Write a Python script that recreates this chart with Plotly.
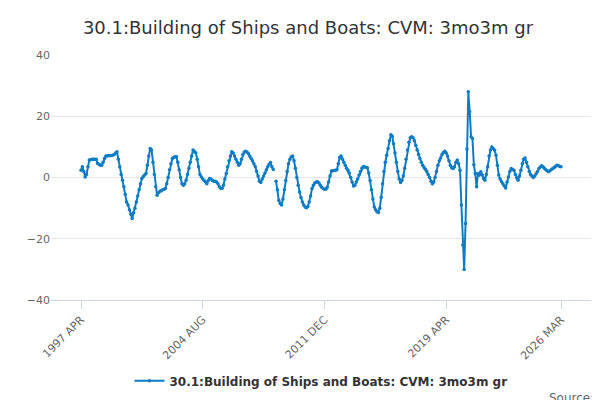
import plotly.graph_objects as go

months = ['JAN', 'FEB', 'MAR', 'APR', 'MAY', 'JUN', 'JUL', 'AUG', 'SEP', 'OCT', 'NOV', 'DEC']

# 3mo3m growth, monthly from 1997 APR
values = [
    2.4, 3.5, 2, 0.2, 1, 3.5, 5.7, 5.8, 6, 6, 6, 6,
    4.6, 4.3, 4, 4, 5, 6.2, 7, 7, 7.2, 7.1, 7.2, 7.3,
    7.5, 8, 8.4, 6, 3.5, 1, -0.9, -3, -5.5, -8, -9, -10.5,
    -12, -13.4, -11.5, -10, -8, -6, -4, -2, -0.3, 0.3, 0.8, 1.3,
    4, 7, 9.5, 9, 5, 1, -3, -5.8, -5, -4.5, -4.3, -4,
    -3.8, -3.6, -2, 0, 2.5, 4.5, 6.2, 6.5, 6.8, 6.8, 5, 2.5,
    0, -2, -2.5, -2, -0.9, 1, 3, 5, 7, 9, 8.5, 8,
    6, 3.5, 1, 0.2, -0.5, -1, -1.5, -2, -1, -0.3, -0.5, -1,
    -1.2, -1.2, -1.5, -2, -3, -3.5, -3.6, -2.5, -0.5, 1.3, 3.5, 5.5,
    7, 8.4, 8, 7, 6, 5, 4, 4.5, 6, 7.5, 8.3, 8.6,
    8.3, 7.8, 7, 6.2, 5.5, 4.5, 3.5, 2, 0.5, -1.2, -1.6, -0.5,
    0.5, 1.5, 2.5, 3.5, 4.3, 4.9, 3.5, 2.6, None, -1.2, -4, -7.5,
    -8.5, -9, -7, -4, -1, 2, 4.5, 6, 6.8, 7, 5.5, 3,
    0, -2.5, -4.7, -6.5, -8, -9, -9.6, -9.9, -9.5, -8, -6, -3.6,
    -2.5, -1.8, -1.5, -1.4, -1.8, -2.5, -3.2, -3.6, -3.8, -3.8, -3.2, -1.5,
    0.5, 2.1, 2.2, 2.3, 2.4, 2.5, 4.5, 6.5, 7, 6, 5, 4,
    3, 2.4, 1.5, 0, -1.5, -2.8, -2.5, -1.5, -0.5, 0.8, 2, 3,
    3.5, 3.5, 3.3, 3.2, 1.5, -1, -4, -7, -9.6, -10.5, -11.2, -11.4,
    -10, -6.5, -2, 2, 5, 7.3, 9.5, 12, 14, 13.5, 11, 8,
    5, 2, -0.5, -1.6, -1, 0.5, 3, 6, 9, 11.5, 13, 13.3,
    13, 12, 10.5, 9, 7.5, 6.2, 5, 4, 3.3, 2.7, 2, 1,
    0, -1.2, -2, -1.5, 0, 2, 4, 5.5, 6.4, 7.5, 8.2, 8.6,
    8, 7, 5.5, 4, 3.2, 2.9, 3.5, 5, 5.7, 4.5, 2.4, -9,
    -22, -30, -15, 9.3, 28, 21.5, 13.3, 12.7, 4.2, 1.3, -3, 1.3,
    0.8, 1.9, 0.8, -0.3, -0.9, 1, 3.5, 7, 9, 10, 9.5, 8.9,
    7.3, 4, 0.8, -0.5, -1.4, -2, -2.8, -3.4, -1.5, 0.2, 2, 2.9,
    2.6, 2.4, 1, -0.2, -0.9, 0.5, 2.4, 4.5, 6, 6.4, 5, 3.5,
    2, 1, 0.5, 0, 0.5, 1.2, 2, 2.9, 3.4, 3.8, 3.5, 3,
    2.5, 2.2, 1.9, 2.2, 2.6, 2.9, 3.2, 3.6, 4, 3.9, 3.6, 3.5,
]

labels = []
for i in range(len(values)):
    k = 3 + i
    labels.append(f"{1997 + k // 12} {months[k % 12]}")

ticks = ['1997 APR', '2004 AUG', '2011 DEC', '2019 APR', labels[-1]]

fig = go.Figure()
fig.add_trace(
    go.Scatter(x=labels, y=values,
               mode='lines+markers',
               name='<b>30.1:Building of Ships and Boats: CVM: 3mo3m gr</b>',
               line=dict(color='rgb(14,124,196)', width=2),
               marker=dict(size=3.5, color='rgb(14,124,196)'))
)

fig.update_layout(
    width=600, height=400,
    title=dict(text='30.1:Building of Ships and Boats: CVM: 3mo3m gr', x=0.5, xanchor='center',
               y=0.95, yanchor='middle',
               font=dict(size=18, color='#333', family='DejaVu Sans')),
    margin=dict(l=43, r=17, t=47, b=108, autoexpand=False),
    plot_bgcolor='white', paper_bgcolor='white',
    font=dict(family='DejaVu Sans', size=11, color='#666'),
    showlegend=True,
    legend=dict(orientation='h', x=0.5, xanchor='center', y=-0.33, yanchor='middle',
                font=dict(size=12, color='#333')),
    annotations=[dict(text='Source:', x=1.01, xref='paper', xanchor='right', y=-0.40, yref='paper',
                      yanchor='middle', showarrow=False, font=dict(size=12, color='#666'))],
)
fig.update_xaxes(type='category', tickmode='array', tickvals=ticks, ticktext=ticks,
                 tickangle=-45, ticks='outside', ticklen=8, tickcolor='#ccd6eb',
                 showline=True, linecolor='#ccd6eb', showgrid=False, automargin=False)
fig.update_yaxes(range=[-40, 40], dtick=20, showgrid=True, gridcolor='#e6e6e6',
                 zeroline=False, automargin=False)

fig.write_html("out.html")
